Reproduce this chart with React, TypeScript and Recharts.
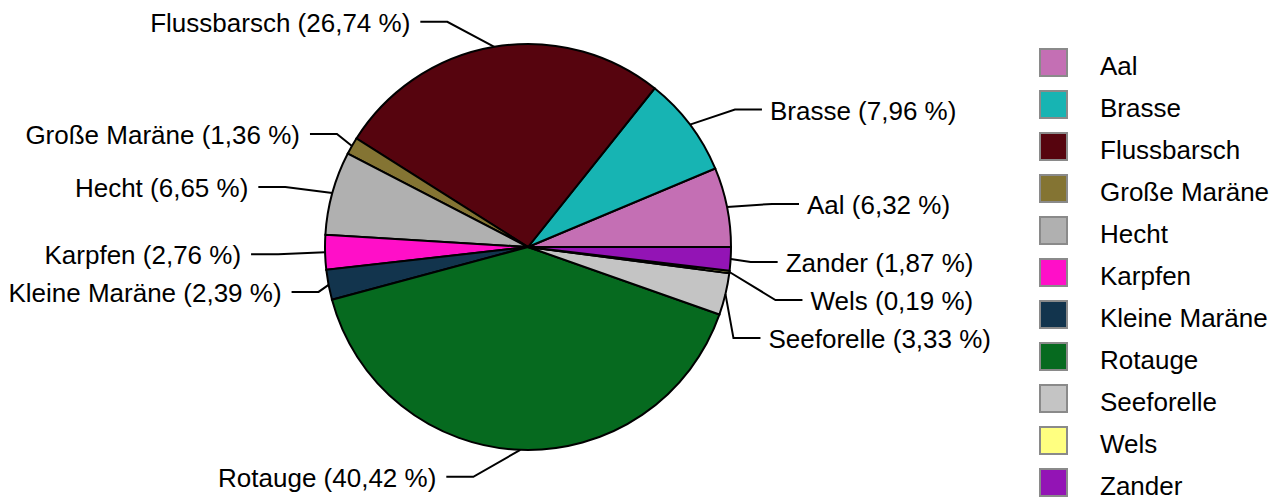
import React from 'react';
import { PieChart, Pie, Cell, Legend } from 'recharts';

const NAMES = ['Aal', 'Brasse', 'Flussbarsch', 'Große Maräne', 'Hecht', 'Karpfen', 'Kleine Maräne', 'Rotauge', 'Seeforelle', 'Wels', 'Zander'];
const SHARES = [6.32, 7.96, 26.74, 1.36, 6.65, 2.76, 2.39, 40.42, 3.33, 0.19, 1.87];
const COLORS = ['#c46fb4', '#17b4b3', '#56040e', '#847433', '#b0b0b0', '#ff0fc8', '#12344d', '#066a1f', '#c4c4c4', '#ffff80', '#9314b5'];

// elbow of each label line, relative to the slice's outer edge point
const ELBOW: { [key: string]: [number, number] } = {
  'Aal': [45, -3],
  'Brasse': [45, -15],
  'Flussbarsch': [-47, -25],
  'Große Maräne': [-15, -12],
  'Hecht': [-47, -6],
  'Karpfen': [-47, 2],
  'Kleine Maräne': [-10, 7],
  'Rotauge': [-47, 27],
  'Seeforelle': [8, 44],
  'Wels': [46, 28],
  'Zander': [20, 3],
};

const data = NAMES.map((name, i) => ({ name, value: SHARES[i] }));
const FONT = 'Liberation Sans, Arial, sans-serif';
const RADIAN = Math.PI / 180;

const fmt = (v: number) => v.toFixed(2).replace('.', ',') + ' %';

const renderLabel = (props: any) => {
  const { cx, cy, midAngle, outerRadius, name, value } = props;
  const x0 = cx + outerRadius * Math.cos(-midAngle * RADIAN);
  const y0 = cy + outerRadius * Math.sin(-midAngle * RADIAN);
  const [dx, dy] = ELBOW[name] || [40, 0];
  const x1 = x0 + dx;
  const y1 = y0 + dy;
  const right = dx >= 0;
  const x2 = x1 + (right ? 27 : -27);
  const tx = x2 + (right ? 8 : -10);
  return (
    <g>
      <polyline points={`${x0},${y0} ${x1},${y1} ${x2},${y1}`} fill="none" stroke="#000" strokeWidth={2} />
      <text x={tx} y={y1 + 1} textAnchor={right ? 'start' : 'end'} dominantBaseline="central"
        fontFamily={FONT} fontSize={26} fill="#000">
        {`${name} (${fmt(value)})`}
      </text>
    </g>
  );
};

const renderLegend = () => (
  <div style={{ fontFamily: FONT, fontSize: 26, color: '#000' }}>
    {NAMES.map((name, i) => (
      <div key={name} style={{ display: 'flex', alignItems: 'center', height: 42 }}>
        <div style={{ width: 25, height: 25, background: COLORS[i], border: '2px solid #8a8a8a', marginRight: 32 }} />
        <span style={{ position: 'relative', top: 4 }}>{name}</span>
      </div>
    ))}
  </div>
);

export default function App() {
  return (
    <div style={{ position: 'absolute', left: 0, top: 0, width: 1275, height: 504, background: '#fff' }}>
      <PieChart width={1275} height={504} margin={{ top: 0, right: 0, bottom: 0, left: 0 }}>
        <Pie
          data={data}
          dataKey="value"
          nameKey="name"
          cx={528}
          cy={247}
          outerRadius={203}
          startAngle={0}
          endAngle={360}
          stroke="#000"
          strokeWidth={2}
          label={renderLabel}
          labelLine={false}
          isAnimationActive={false}
        >
          {data.map((d, i) => (
            <Cell key={d.name} fill={COLORS[i]} />
          ))}
        </Pie>
        <Legend
          content={renderLegend}
          layout="vertical"
          wrapperStyle={{ position: 'absolute', left: 1039, top: 41, width: 236 }}
        />
      </PieChart>
    </div>
  );
}
